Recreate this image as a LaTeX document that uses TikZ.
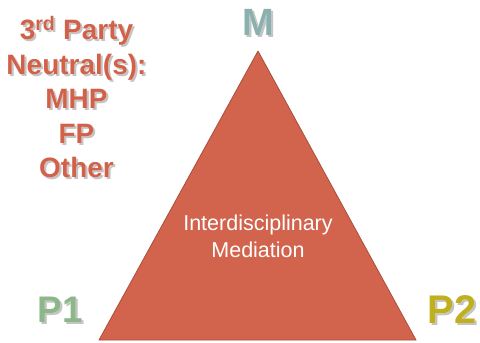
\documentclass[tikz,border=0pt]{standalone}
\usepackage{fontspec}
\setmainfont{Liberation Sans}
\usepackage[outline]{contour}
\contourlength{1.2pt}
\definecolor{triFill}{HTML}{D2634C}
\definecolor{triEdge}{HTML}{A94F3C}
\definecolor{neutralRed}{HTML}{D2614A}
\definecolor{mTeal}{HTML}{8BB1AF}
\definecolor{pGreen}{HTML}{8DB78B}
\definecolor{pOlive}{HTML}{BFB021}
\definecolor{shadowGrey}{HTML}{C4C4C4}
% text with a white rim and a grey drop shadow below right
\newcommand\rimtext[1]{\leavevmode\rlap{\hspace{2pt}\raisebox{-2pt}{\textcolor{shadowGrey}{#1}}}\contour{white}{#1}}
\begin{document}
\begin{tikzpicture}[x=1pt,y=-1pt,
  lbl/.style={inner sep=0pt,font=\bfseries},
  inner/.style={inner sep=0pt,text=white,align=center,
    font=\fontsize{21.5}{27}\selectfont}]
  \useasboundingbox (0,0) rectangle (480,343);

  % the triangle
  \coordinate (apex) at (258,51);
  \coordinate (left) at (99,340);
  \coordinate (right) at (416,340);
  \draw[fill=triFill,draw=triEdge,line width=0.8pt,line join=round]
    (apex) -- (left) -- (right) -- cycle;

  \node[inner] (centre) at (258,236) {Interdisciplinary\\Mediation};

  % corner labels
  \node[lbl,text=mTeal,font=\bfseries\fontsize{38}{38}\selectfont] (m) at (258,23) {\rimtext{M}};
  \node[lbl,text=pGreen,font=\bfseries\fontsize{37}{37}\selectfont] (p1) at (60,311) {\rimtext{P1}};
  \node[lbl,text=pOlive,font=\bfseries\fontsize{40}{40}\selectfont] (p2) at (452,311) {\rimtext{P2}};

  % third-party neutral list
  \node[lbl,align=center,text=neutralRed,font=\bfseries\fontsize{28}{34.5}\selectfont] (neutral) at (76.5,98.5)
    {\rimtext{3\textsuperscript{rd} Party}\\\rimtext{Neutral(s):}\\\rimtext{MHP}\\\rimtext{FP}\\\rimtext{Other}};
\end{tikzpicture}
\end{document}
